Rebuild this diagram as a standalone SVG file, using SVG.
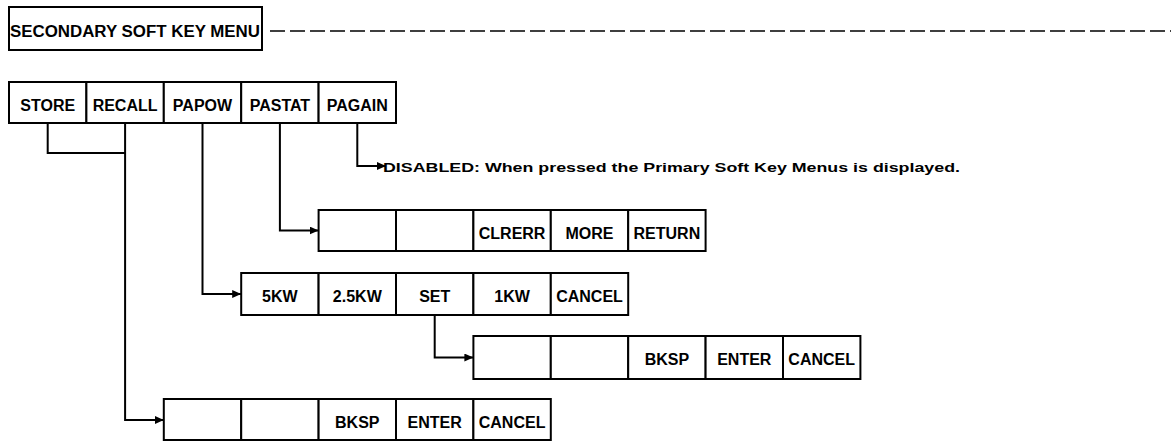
<svg xmlns="http://www.w3.org/2000/svg" width="1171" height="441" viewBox="0 0 1171 441">
<style>
.cell{fill:#fff;stroke:#000;stroke-width:2}
.t{font-family:"Liberation Sans",Arial,Helvetica,sans-serif;font-weight:bold;font-size:16px;fill:#000;text-anchor:middle}
.note{font-family:"Liberation Sans",Arial,Helvetica,sans-serif;font-weight:bold;font-size:13.5px;fill:#000}
.conn{fill:none;stroke:#000;stroke-width:2}
.dash{fill:none;stroke:#000;stroke-width:1.6;stroke-dasharray:15 5}
</style>
<defs>
<marker id="arr" markerUnits="userSpaceOnUse" markerWidth="10" markerHeight="8" refX="9" refY="4" orient="auto">
<path d="M0,0 L9,4 L0,8 z" fill="#000"/>
</marker>
</defs>
<rect width="1171" height="441" fill="#fff"/>

<g id="header">
<rect class="cell" x="9" y="7" width="253" height="43"/>
<text class="t" x="10" y="37" style="text-anchor:start" textLength="250" lengthAdjust="spacingAndGlyphs">SECONDARY SOFT KEY MENU</text>
</g>
<path class="dash" d="M270,31 H1171"/>

<g id="menu-secondary">
<rect class="cell" x="9" y="82" width="77.4" height="41"/>
<rect class="cell" x="86.4" y="82" width="77.4" height="41"/>
<rect class="cell" x="163.8" y="82" width="77.4" height="41"/>
<rect class="cell" x="241.2" y="82" width="77.4" height="41"/>
<rect class="cell" x="318.6" y="82" width="77.4" height="41"/>
<text class="t" x="47.7" y="111">STORE</text>
<text class="t" x="125.1" y="111">RECALL</text>
<text class="t" x="202.5" y="111">PAPOW</text>
<text class="t" x="279.9" y="111">PASTAT</text>
<text class="t" x="357.3" y="111">PAGAIN</text>
</g>

<g id="note-disabled">
<text class="note" x="383" y="172" textLength="577" lengthAdjust="spacingAndGlyphs">DISABLED:  When pressed the Primary Soft Key Menus is displayed.</text>
</g>

<g id="menu-pastat">
<rect class="cell" x="318.6" y="210" width="77.4" height="41"/>
<rect class="cell" x="396" y="210" width="77.4" height="41"/>
<rect class="cell" x="473.4" y="210" width="77.4" height="41"/>
<rect class="cell" x="550.8" y="210" width="77.4" height="41"/>
<rect class="cell" x="628.2" y="210" width="77.4" height="41"/>
<text class="t" x="512.1" y="239">CLRERR</text>
<text class="t" x="589.5" y="239">MORE</text>
<text class="t" x="666.9" y="239">RETURN</text>
</g>

<g id="menu-papow">
<rect class="cell" x="241.2" y="273" width="77.4" height="42"/>
<rect class="cell" x="318.6" y="273" width="77.4" height="42"/>
<rect class="cell" x="396" y="273" width="77.4" height="42"/>
<rect class="cell" x="473.4" y="273" width="77.4" height="42"/>
<rect class="cell" x="550.8" y="273" width="77.4" height="42"/>
<text class="t" x="279.9" y="302">5KW</text>
<text class="t" x="357.3" y="302">2.5KW</text>
<text class="t" x="434.7" y="302">SET</text>
<text class="t" x="512.1" y="302">1KW</text>
<text class="t" x="589.5" y="302">CANCEL</text>
</g>

<g id="menu-set">
<rect class="cell" x="473.4" y="336" width="77.4" height="43"/>
<rect class="cell" x="550.8" y="336" width="77.4" height="43"/>
<rect class="cell" x="628.2" y="336" width="77.4" height="43"/>
<rect class="cell" x="705.6" y="336" width="77.4" height="43"/>
<rect class="cell" x="783" y="336" width="77.4" height="43"/>
<text class="t" x="666.9" y="365">BKSP</text>
<text class="t" x="744.3" y="365">ENTER</text>
<text class="t" x="821.7" y="365">CANCEL</text>
</g>

<g id="menu-store-recall">
<rect class="cell" x="163.8" y="399" width="77.4" height="41"/>
<rect class="cell" x="241.2" y="399" width="77.4" height="41"/>
<rect class="cell" x="318.6" y="399" width="77.4" height="41"/>
<rect class="cell" x="396" y="399" width="77.4" height="41"/>
<rect class="cell" x="473.4" y="399" width="77.4" height="41"/>
<text class="t" x="357.3" y="428">BKSP</text>
<text class="t" x="434.7" y="428">ENTER</text>
<text class="t" x="512.1" y="428">CANCEL</text>
</g>

<g id="connectors">
<path class="conn" d="M47.7,123 V153 H125.1"/>
<path class="conn" d="M125.1,123 V420 H163.8" marker-end="url(#arr)"/>
<path class="conn" d="M202.5,123 V294 H241.2" marker-end="url(#arr)"/>
<path class="conn" d="M279.9,123 V230.5 H318.6" marker-end="url(#arr)"/>
<path class="conn" d="M357.3,123 V166 H386" marker-end="url(#arr)"/>
<path class="conn" d="M434.7,315 V357.5 H473.4" marker-end="url(#arr)"/>
</g>
</svg>
